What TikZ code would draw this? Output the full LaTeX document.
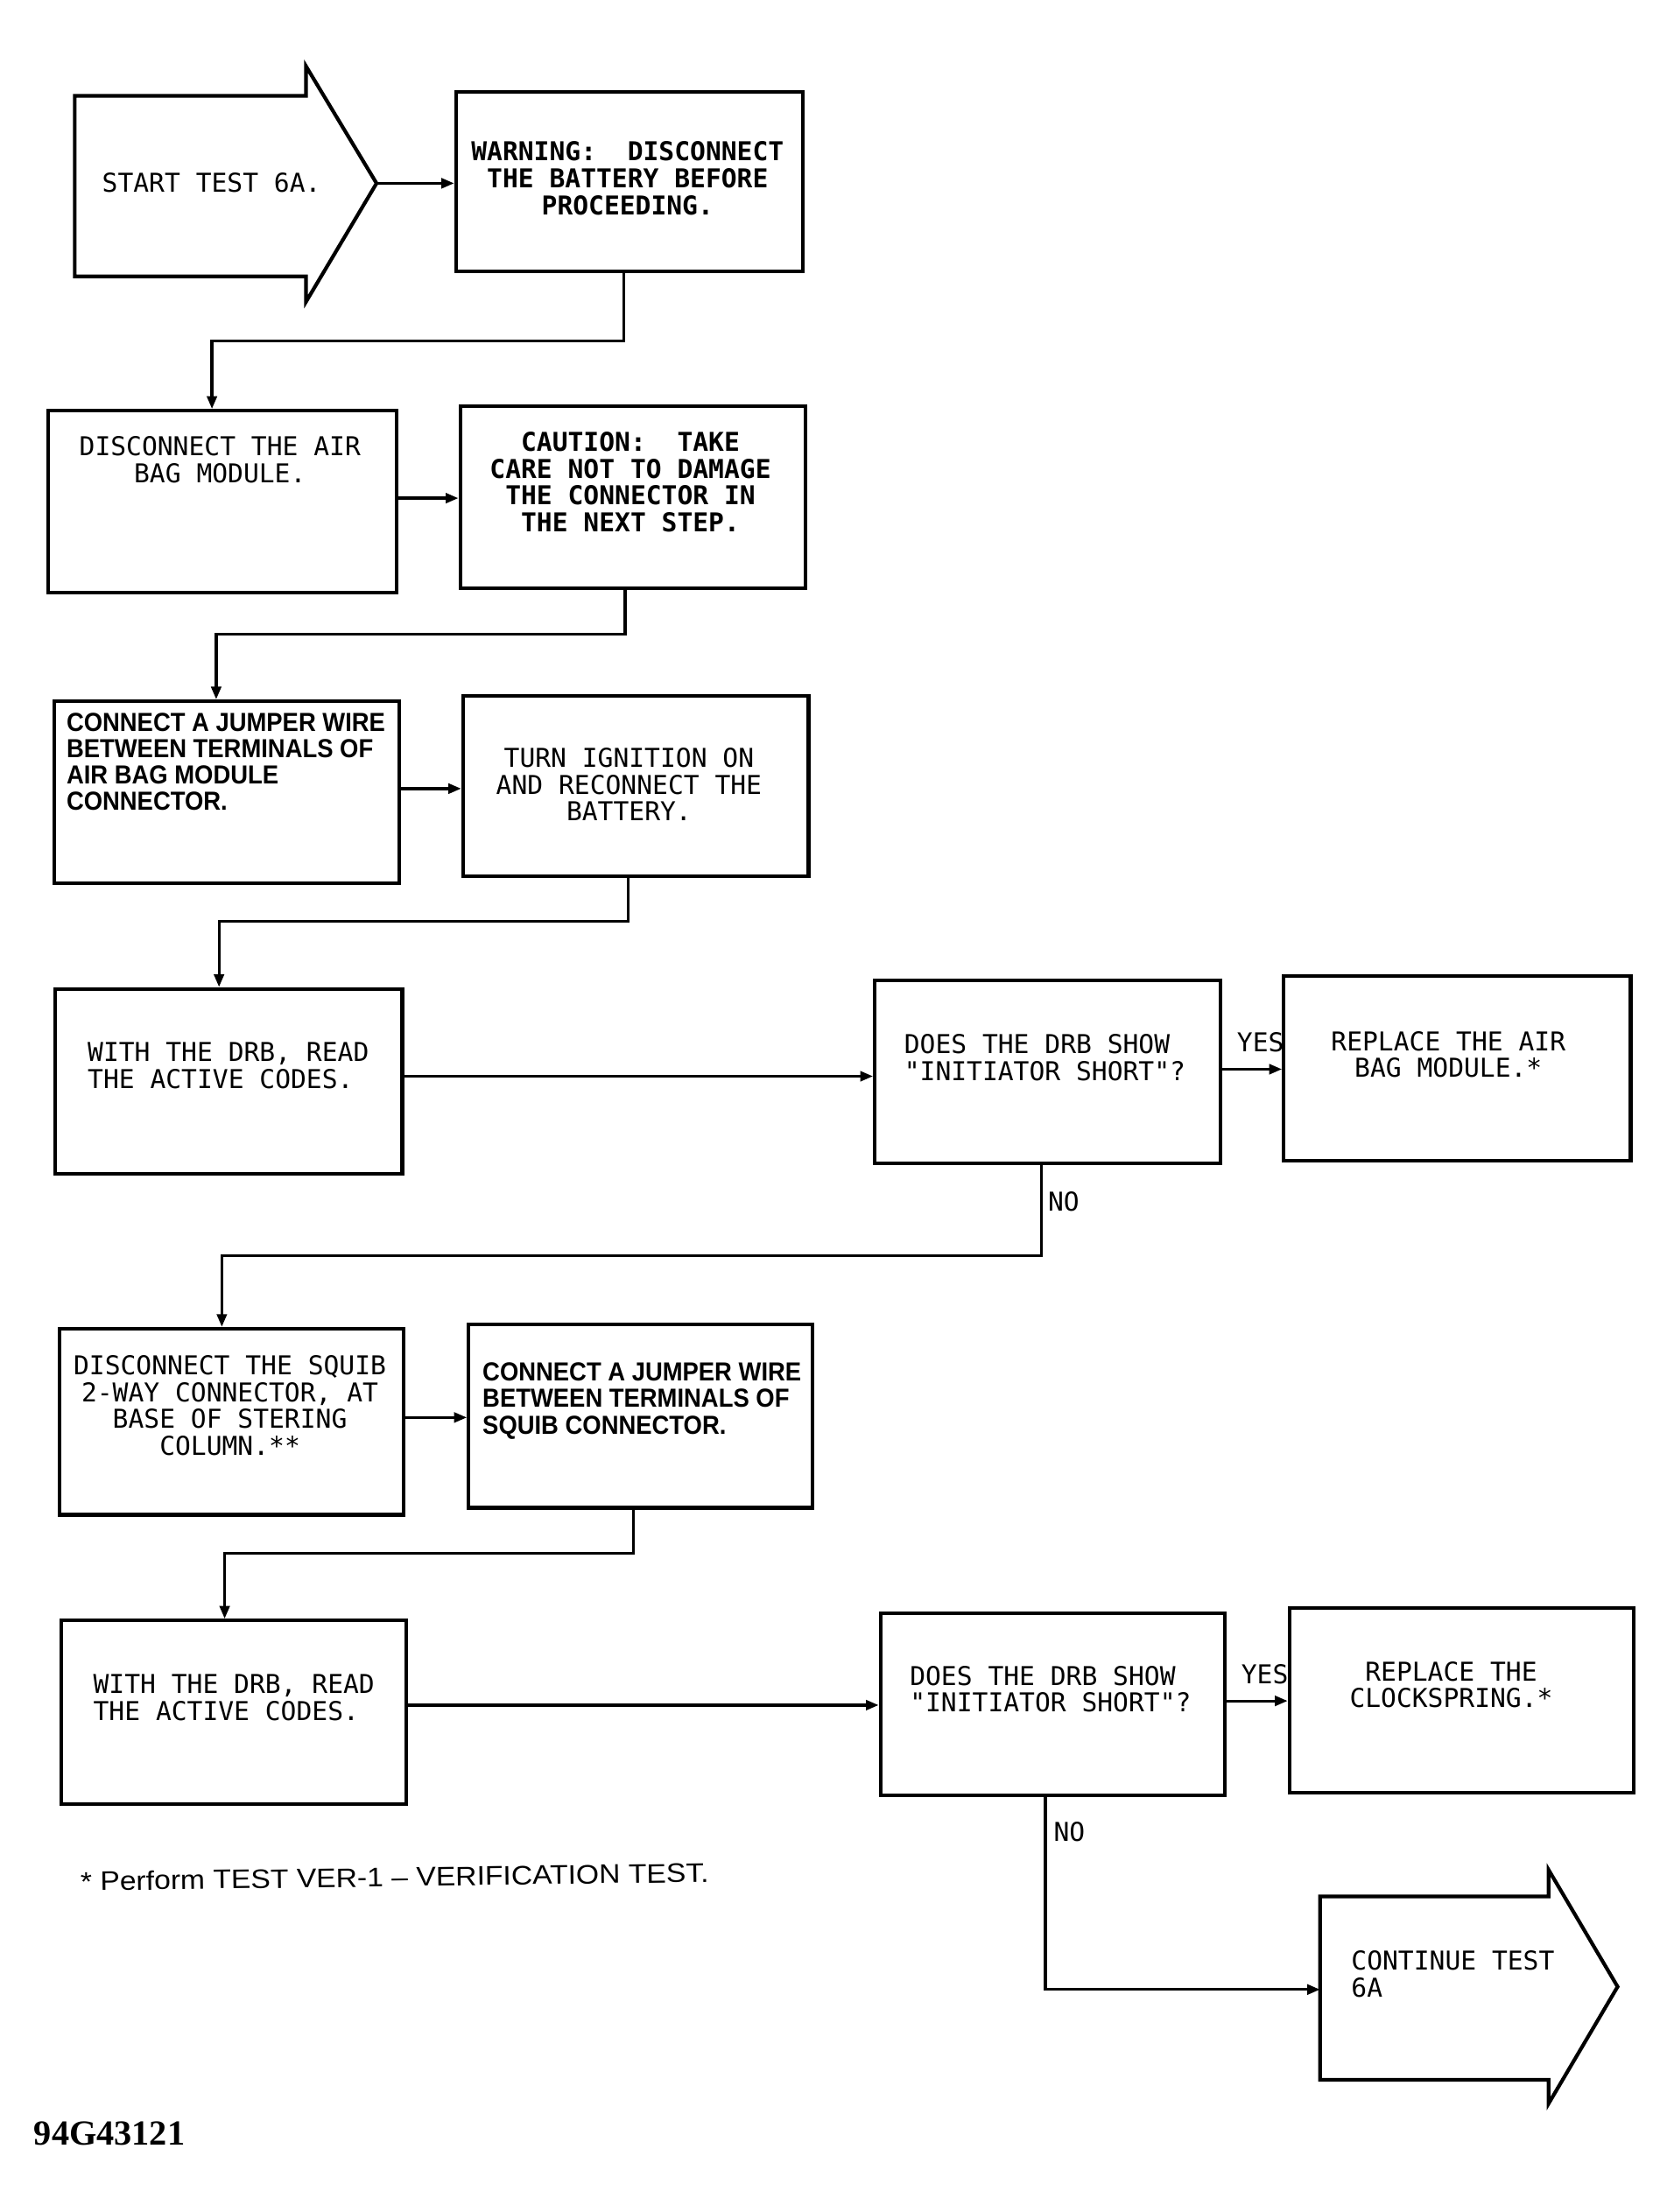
\documentclass[tikz,border=0pt]{standalone}
\usepackage{fontspec}
\usetikzlibrary{arrows.meta}
\newfontfamily\plotfont{DejaVu Sans Mono}
\newfontfamily\helvc{Liberation Sans}[FakeStretch=0.92]
\newfontfamily\helvn{Liberation Sans}[FakeStretch=1.10]
\newfontfamily\timesb{Liberation Serif}
\tikzset{
  box/.style={draw, line width=2.6pt, inner sep=0pt, anchor=north west},
  conn/.style={line width=2pt, -{Triangle[length=9pt,width=7pt]}},
  ptxt/.style={font=\plotfont\fontsize{18.4}{19}\selectfont, inner sep=0pt, align=center, anchor=north},
  ptxtb/.style={font=\plotfont\bfseries\fontsize{18.4}{19}\selectfont, inner sep=0pt, align=center, anchor=north},
  ptxtl/.style={font=\plotfont\fontsize{18.4}{19}\selectfont, inner sep=0pt, align=left, anchor=north west},
  btxt/.style={font=\helvc\bfseries\fontsize{18.5}{18.7}\selectfont, inner sep=0pt, align=left, anchor=north west},
  lbl/.style={font=\plotfont\fontsize{18.4}{19}\selectfont, inner sep=0pt, anchor=north west},
}
\newcommand\mkbox[5]{\node[box, minimum width={#4pt-#2pt}, minimum height={#5pt-#3pt}] (#1) at (#2,#3) {};}
\begin{document}
\begin{tikzpicture}[x=1pt,y=-1pt]
\useasboundingbox[fill=white] (0,0) rectangle (1182,1568.8);

% START arrow
\draw[line width=2.6pt, line join=miter] (53,68) -- (217,68) -- (217,47) -- (267,130) -- (217,214) -- (217,196) -- (53,196) -- cycle;
\coordinate (tip1) at (267,130);
\node[ptxt, anchor=base] (tstart) at (150,136) {START TEST 6A.};

% boxes
\mkbox{warn}{322}{64}{568}{191}
\mkbox{disc}{33}{290}{280}{419}
\mkbox{caut}{325}{287}{570}{416}
\mkbox{conn}{37}{496}{282}{625}
\mkbox{turn}{327}{492}{572}{620}
\mkbox{withA}{38}{700}{284}{831}
\mkbox{doesA}{619}{694}{864}{824}
\mkbox{replA}{909}{691}{1155}{822}
\mkbox{squib}{41}{941}{285}{1073}
\mkbox{consq}{331}{938}{575}{1068}
\mkbox{withB}{42}{1148}{287}{1278}
\mkbox{doesB}{623}{1143}{867}{1272}
\mkbox{replB}{913}{1139}{1157}{1270}

% CONTINUE arrow
\draw[line width=2.6pt, line join=miter] (936,1345) -- (1098,1345) -- (1098,1326) -- (1147,1409) -- (1098,1492) -- (1098,1475) -- (936,1475) -- cycle;
\coordinate (contin) at (936,1411);

% texts
\node[ptxtb] (twarn) at (445,100.3) {WARNING:\ \ DISCONNECT\\THE BATTERY BEFORE\\PROCEEDING.};
\node[ptxt] (tdisc) at (156,309.3) {DISCONNECT THE AIR\\BAG MODULE.};
\node[ptxtb] (tcaut) at (447,306.3) {CAUTION:\ \ TAKE\\CARE NOT TO DAMAGE\\THE CONNECTOR IN\\THE NEXT STEP.};
\node[btxt] (tconn) at (47,505.4) {CONNECT A JUMPER WIRE\\BETWEEN TERMINALS OF\\AIR BAG MODULE\\CONNECTOR.};
\node[ptxt] (tturn) at (446,530.3) {TURN IGNITION ON\\AND RECONNECT THE\\BATTERY.};
\node[ptxtl] (twithA) at (62,739.3) {WITH THE DRB, READ\\THE ACTIVE CODES.};
\node[ptxtl] (tdoesA) at (641,733.3) {DOES THE DRB SHOW\\"INITIATOR SHORT"?};
\node[ptxt] (treplA) at (1027,731.3) {REPLACE THE AIR\\BAG MODULE.*};
\node[ptxt] (tsquib) at (163,961.3) {DISCONNECT THE SQUIB\\2-WAY CONNECTOR, AT\\BASE OF STERING\\COLUMN.**};
\node[btxt] (tconsq) at (342,966.4) {CONNECT A JUMPER WIRE\\BETWEEN TERMINALS OF\\SQUIB CONNECTOR.};
\node[ptxtl] (twithB) at (66,1187.3) {WITH THE DRB, READ\\THE ACTIVE CODES.};
\node[ptxtl] (tdoesB) at (645,1181.3) {DOES THE DRB SHOW\\"INITIATOR SHORT"?};
\node[ptxt] (treplB) at (1029,1178.3) {REPLACE THE\\CLOCKSPRING.*};
\node[ptxtl] (tcont) at (958,1383.3) {CONTINUE TEST\\6A};

% labels
\node[lbl] (yesA) at (877,732.3) {YES};
\node[lbl] (noA) at (743,845.3) {NO};
\node[lbl] (yesB) at (880,1180.3) {YES};
\node[lbl] (noB) at (747,1292.3) {NO};

% connectors
\draw[conn] (tip1) -- (tip1 -| warn.west);
\draw[conn] ([xshift=-4pt]warn.south) -- ++(0,48) -| ([xshift=-7.5pt]disc.north);
\path ([yshift=2.5pt]disc.east) coordinate (s3);
\draw[conn] (s3) -- (s3 -| caut.west);
\draw[conn] ([xshift=-5.5pt]caut.south) -- ++(0,31) -| ([xshift=-7.5pt]conn.north);
\path ([yshift=2.5pt]conn.east) coordinate (s5);
\draw[conn] (s5) -- (s5 -| turn.west);
\draw[conn] ([xshift=-5.5pt]turn.south) -- ++(0,31) -| ([xshift=-7pt]withA.north);
\path ([yshift=3.5pt]withA.east) coordinate (s7);
\draw[conn] (s7) -- (s7 -| doesA.west);
\path ([yshift=2pt]doesA.east) coordinate (s8);
\draw[conn] (s8) -- (s8 -| replA.west);
\draw[conn] ([xshift=-4.5pt]doesA.south) -- ++(0,64) -| ([xshift=-7pt]squib.north);
\path ([yshift=3pt]squib.east) coordinate (s10);
\draw[conn] (s10) -- (s10 -| consq.west);
\draw[conn] ([xshift=-5pt]consq.south) -- ++(0,31) -| ([xshift=-6.5pt]withB.north);
\path ([yshift=5pt]withB.east) coordinate (s12);
\draw[conn] (s12) -- (s12 -| doesB.west);
\path ([yshift=2.5pt]doesB.east) coordinate (s13);
\draw[conn] (s13) -- (s13 -| replB.west);
\draw[conn] ([xshift=-5pt]doesB.south) |- (contin);

% footnote and figure number
\node[font=\helvn\fontsize{19}{20}\selectfont, inner sep=0pt, anchor=base west, rotate=0.8] (foot) at (57,1341) {* Perform TEST VER-1 – VERIFICATION TEST.};
\node[font=\timesb\bfseries\fontsize{25}{26}\selectfont, inner sep=0pt, anchor=base west] (fig) at (24,1521) {94G43121};
\end{tikzpicture}
\end{document}
